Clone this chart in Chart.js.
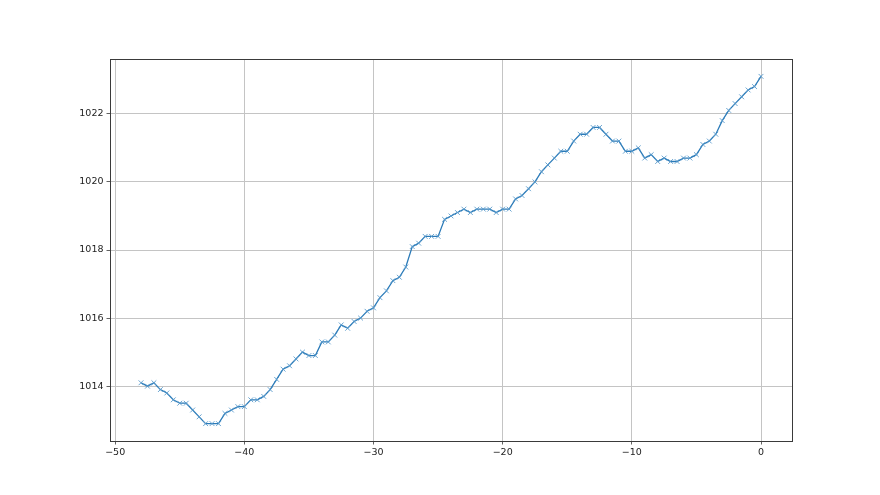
<!DOCTYPE html>
<html>
<head>
<meta charset="utf-8">
<script src="https://cdn.jsdelivr.net/npm/chart.js@4/dist/chart.umd.min.js"></script>
<style>
  html, body { margin: 0; padding: 0; background: #fff; }
  #wrap { width: 880px; height: 495px; }
</style>
</head>
<body>
<div id="wrap"><canvas id="myChart" width="880" height="495"></canvas></div>
<script>
  // data
  const offsets = [
    -48, -47.5, -47, -46.5, -46, -45.5, -45, -44.5, -44, -43.5,
    -43, -42.5, -42, -41.5, -41, -40.5, -40, -39.5, -39, -38.5,
    -38, -37.5, -37, -36.5, -36, -35.5, -35, -34.5, -34, -33.5,
    -33, -32.5, -32, -31.5, -31, -30.5, -30, -29.5, -29, -28.5,
    -28, -27.5, -27, -26.5, -26, -25.5, -25, -24.5, -24, -23.5,
    -23, -22.5, -22, -21.5, -21, -20.5, -20, -19.5, -19, -18.5,
    -18, -17.5, -17, -16.5, -16, -15.5, -15, -14.5, -14, -13.5,
    -13, -12.5, -12, -11.5, -11, -10.5, -10, -9.5, -9, -8.5,
    -8, -7.5, -7, -6.5, -6, -5.5, -5, -4.5, -4, -3.5,
    -3, -2.5, -2, -1.5, -1, -0.5, 0
  ];
  const pressure = [
    1014.1, 1014.0, 1014.1, 1013.9, 1013.8, 1013.6, 1013.5, 1013.5, 1013.3, 1013.1,
    1012.9, 1012.9, 1012.9, 1013.2, 1013.3, 1013.4, 1013.4, 1013.6, 1013.6, 1013.7,
    1013.9, 1014.2, 1014.5, 1014.6, 1014.8, 1015.0, 1014.9, 1014.9, 1015.3, 1015.3,
    1015.5, 1015.8, 1015.7, 1015.9, 1016.0, 1016.2, 1016.3, 1016.6, 1016.8, 1017.1,
    1017.2, 1017.5, 1018.1, 1018.2, 1018.4, 1018.4, 1018.4, 1018.9, 1019.0, 1019.1,
    1019.2, 1019.1, 1019.2, 1019.2, 1019.2, 1019.1, 1019.2, 1019.2, 1019.5, 1019.6,
    1019.8, 1020.0, 1020.3, 1020.5, 1020.7, 1020.9, 1020.9, 1021.2, 1021.4, 1021.4,
    1021.6, 1021.6, 1021.4, 1021.2, 1021.2, 1020.9, 1020.9, 1021.0, 1020.7, 1020.8,
    1020.6, 1020.7, 1020.6, 1020.6, 1020.7, 1020.7, 1020.8, 1021.1, 1021.2, 1021.4,
    1021.8, 1022.1, 1022.3, 1022.5, 1022.7, 1022.8, 1023.1
  ];
  const xTicks = [-50, -40, -30, -20, -10, 0];
  const yTicks = [1014, 1016, 1018, 1020, 1022];

  const points = offsets.map((x, i) => ({ x: x, y: pressure[i] }));

  // matplotlib style frame around the plot area
  const frame = {
    id: "frame",
    afterDraw(chart) {
      const a = chart.chartArea;
      const c = chart.ctx;
      c.save();
      c.strokeStyle = "#3a3a3a";
      c.lineWidth = 1;
      c.strokeRect(a.left + 0.5, a.top + 0.5, a.right - a.left, a.bottom - a.top);
      c.restore();
    },
  };

  const font = { family: "DejaVu Sans", size: 9.5 };

  new Chart(document.getElementById("myChart"), {
    type: "line",
    data: {
      datasets: [
        {
          data: points,
          borderColor: "#2a7ab8",
          borderWidth: 1.3,
          pointStyle: "crossRot",
          pointRadius: 3.4,
          pointBorderWidth: 0.9,
          pointBorderColor: "#5a9bcc",
          pointHoverRadius: 3.4,
          fill: false,
          tension: 0,
        },
      ],
    },
    options: {
      responsive: false,
      animation: false,
      layout: { padding: { left: 0, right: 88, top: 59, bottom: 0 } },
      plugins: {
        legend: { display: false },
        tooltip: { enabled: false },
      },
      scales: {
        x: {
          type: "linear",
          min: -50.4,
          max: 2.4,
          afterBuildTicks: (s) => { s.ticks = xTicks.map((v) => ({ value: v })); },
          afterFit: (s) => { s.height = 54; },
          grid: { color: "#c4c4c4", lineWidth: 1, tickLength: 3.5, tickColor: "#3a3a3a", tickWidth: 0.8 },
          border: { display: false },
          ticks: {
            color: "#222",
            font: font,
            padding: 2,
            maxRotation: 0,
            callback: (v) => String(v).replace("-", "\u2212"),
          },
        },
        y: {
          min: 1012.39,
          max: 1023.61,
          afterBuildTicks: (s) => { s.ticks = yTicks.map((v) => ({ value: v })); },
          afterFit: (s) => { s.width = 110; },
          grid: { color: "#c4c4c4", lineWidth: 1, tickLength: 3.5, tickColor: "#3a3a3a", tickWidth: 0.8 },
          border: { display: false },
          ticks: {
            color: "#222",
            font: font,
            padding: 3,
            callback: (v) => String(v),
          },
        },
      },
    },
    plugins: [frame],
  });
</script>
</body>
</html>
